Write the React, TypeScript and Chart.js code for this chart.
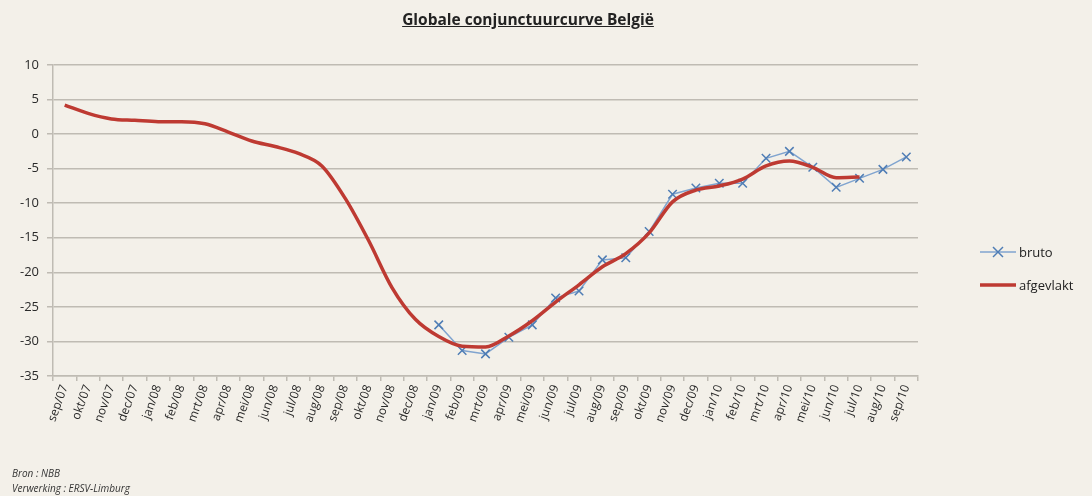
import React, { useEffect, useRef } from "react";
import { Chart, registerables } from "chart.js";

Chart.register(...registerables);

const categories: string[] = [
  "sep/07", "okt/07", "nov/07", "dec/07", "jan/08", "feb/08", "mrt/08", "apr/08", "mei/08", "jun/08",
  "jul/08", "aug/08", "sep/08", "okt/08", "nov/08", "dec/08", "jan/09", "feb/09", "mrt/09", "apr/09",
  "mei/09", "jun/09", "jul/09", "aug/09", "sep/09", "okt/09", "nov/09", "dec/09", "jan/10", "feb/10",
  "mrt/10", "apr/10", "mei/10", "jun/10", "jul/10", "aug/10", "sep/10",
];

const bruto: (number | null)[] = [
  null, null, null, null, null, null, null, null, null, null,
  null, null, null, null, null, null, -27.6, -31.3, -31.8, -29.4,
  -27.6, -23.7, -22.7, -18.2, -17.9, -14.1, -8.7, -7.8, -7.1, -7.1,
  -3.5, -2.5, -4.8, -7.7, -6.4, -5.1, -3.3,
];

const afgevlakt: (number | null)[] = [
  4.2, 3.0, 2.2, 2.0, 1.8, 1.8, 1.5, 0.3, -1.0, -1.8,
  -2.8, -4.6, -9.3, -15.4, -22.2, -26.8, -29.3, -30.7, -30.8, -29.2,
  -27.0, -24.3, -21.8, -19.2, -17.3, -14.3, -9.8, -8.1, -7.5, -6.5,
  -4.6, -3.9, -4.8, -6.3, -6.2, null, null,
];

const yTicks = { min: -35, max: 10, step: 5 };

const titleText = "Globale conjunctuurcurve België";
const sourceLines = ["Bron : NBB", "Verwerking : ERSV-Limburg"];

const BG = "#f3f0e9";
const GRID = "#bfbbb3";
const BLUE_LINE = "#80a4cf";
const BLUE_MARK = "#4f7db5";
const RED = "#be3a32";
const FONT = "'Open Sans', 'Liberation Sans', sans-serif";

export default function App() {
  const canvasRef = useRef<HTMLCanvasElement | null>(null);

  useEffect(() => {
    const ctx = canvasRef.current!.getContext("2d")!;
    const chart = new Chart(ctx, {
      type: "line",
      data: {
        labels: categories,
        datasets: [
          {
            label: "afgevlakt",
            data: afgevlakt,
            borderColor: RED,
            borderWidth: 3.5,
            pointRadius: 0,
            cubicInterpolationMode: "monotone",
            spanGaps: false,
            order: 0,
          },
          {
            label: "bruto",
            data: bruto,
            borderColor: BLUE_LINE,
            borderWidth: 1.5,
            pointStyle: "crossRot",
            pointRadius: 6,
            pointBorderColor: BLUE_MARK,
            pointBorderWidth: 1.5,
            tension: 0,
            order: 1,
          },
        ],
      },
      options: {
        animation: false,
        responsive: false,
        maintainAspectRatio: false,
        layout: { padding: { left: 0, top: 65, right: 174, bottom: 0 } },
        plugins: {
          legend: { display: false },
          tooltip: { enabled: false },
          title: { display: false },
        },
        scales: {
          x: {
            type: "category",
            offset: true,
            grid: {
              offset: true,
              drawOnChartArea: false,
              drawTicks: true,
              tickLength: 5,
              color: GRID,
              lineWidth: 1.5,
            },
            border: { display: true, color: GRID, width: 1.5 },
            ticks: {
              autoSkip: false,
              minRotation: 70,
              maxRotation: 70,
              padding: 2,
              color: "#2a2a2a",
              font: { family: FONT, size: 12 },
            },
            afterFit: (scale: any) => {
              scale.height = 120;
            },
          },
          y: {
            min: yTicks.min,
            max: yTicks.max,
            ticks: {
              stepSize: yTicks.step,
              padding: 8,
              color: "#2a2a2a",
              font: { family: FONT, size: 13 },
            },
            grid: {
              color: GRID,
              lineWidth: 1.5,
              drawTicks: true,
              tickLength: 6,
            },
            border: { display: true, color: GRID, width: 1.5 },
            afterFit: (scale: any) => {
              scale.width = 53;
            },
          },
        },
      },
    });
    return () => chart.destroy();
  }, []);

  return (
    <div
      style={{
        position: "fixed",
        left: 0,
        top: 0,
        width: 1092,
        height: 496,
        background: BG,
        overflow: "hidden",
        fontFamily: FONT,
      }}
    >
      <canvas ref={canvasRef} width={1092} height={496} style={{ position: "absolute", left: 0, top: 0 }} />
      <div
        style={{
          position: "absolute",
          left: 0,
          width: 1056,
          top: 8,
          textAlign: "center",
          fontWeight: 700,
          fontSize: 15.5,
          textDecoration: "underline",
          color: "#222",
        }}
      >
        {titleText}
      </div>
      <div style={{ position: "absolute", left: 980, top: 242, fontSize: 13, color: "#222" }}>
        <div style={{ display: "flex", alignItems: "center", height: 20 }}>
          <svg width={36} height={14} style={{ marginRight: 3 }}>
            <line x1={0} y1={7} x2={36} y2={7} stroke={BLUE_LINE} strokeWidth={1.5} />
            <line x1={13} y1={2} x2={23} y2={12} stroke={BLUE_MARK} strokeWidth={1.5} />
            <line x1={13} y1={12} x2={23} y2={2} stroke={BLUE_MARK} strokeWidth={1.5} />
          </svg>
          <span>bruto</span>
        </div>
        <div style={{ display: "flex", alignItems: "center", height: 20, marginTop: 13 }}>
          <svg width={36} height={14} style={{ marginRight: 3 }}>
            <line x1={0} y1={7} x2={36} y2={7} stroke={RED} strokeWidth={3.5} />
          </svg>
          <span>afgevlakt</span>
        </div>
      </div>
      <div
        style={{
          position: "absolute",
          left: 12,
          top: 466,
          fontSize: 10,
          fontStyle: "italic",
          color: "#333",
          lineHeight: "15px",
        }}
      >
        {sourceLines.map((s) => (
          <div key={s}>{s}</div>
        ))}
      </div>
    </div>
  );
}
